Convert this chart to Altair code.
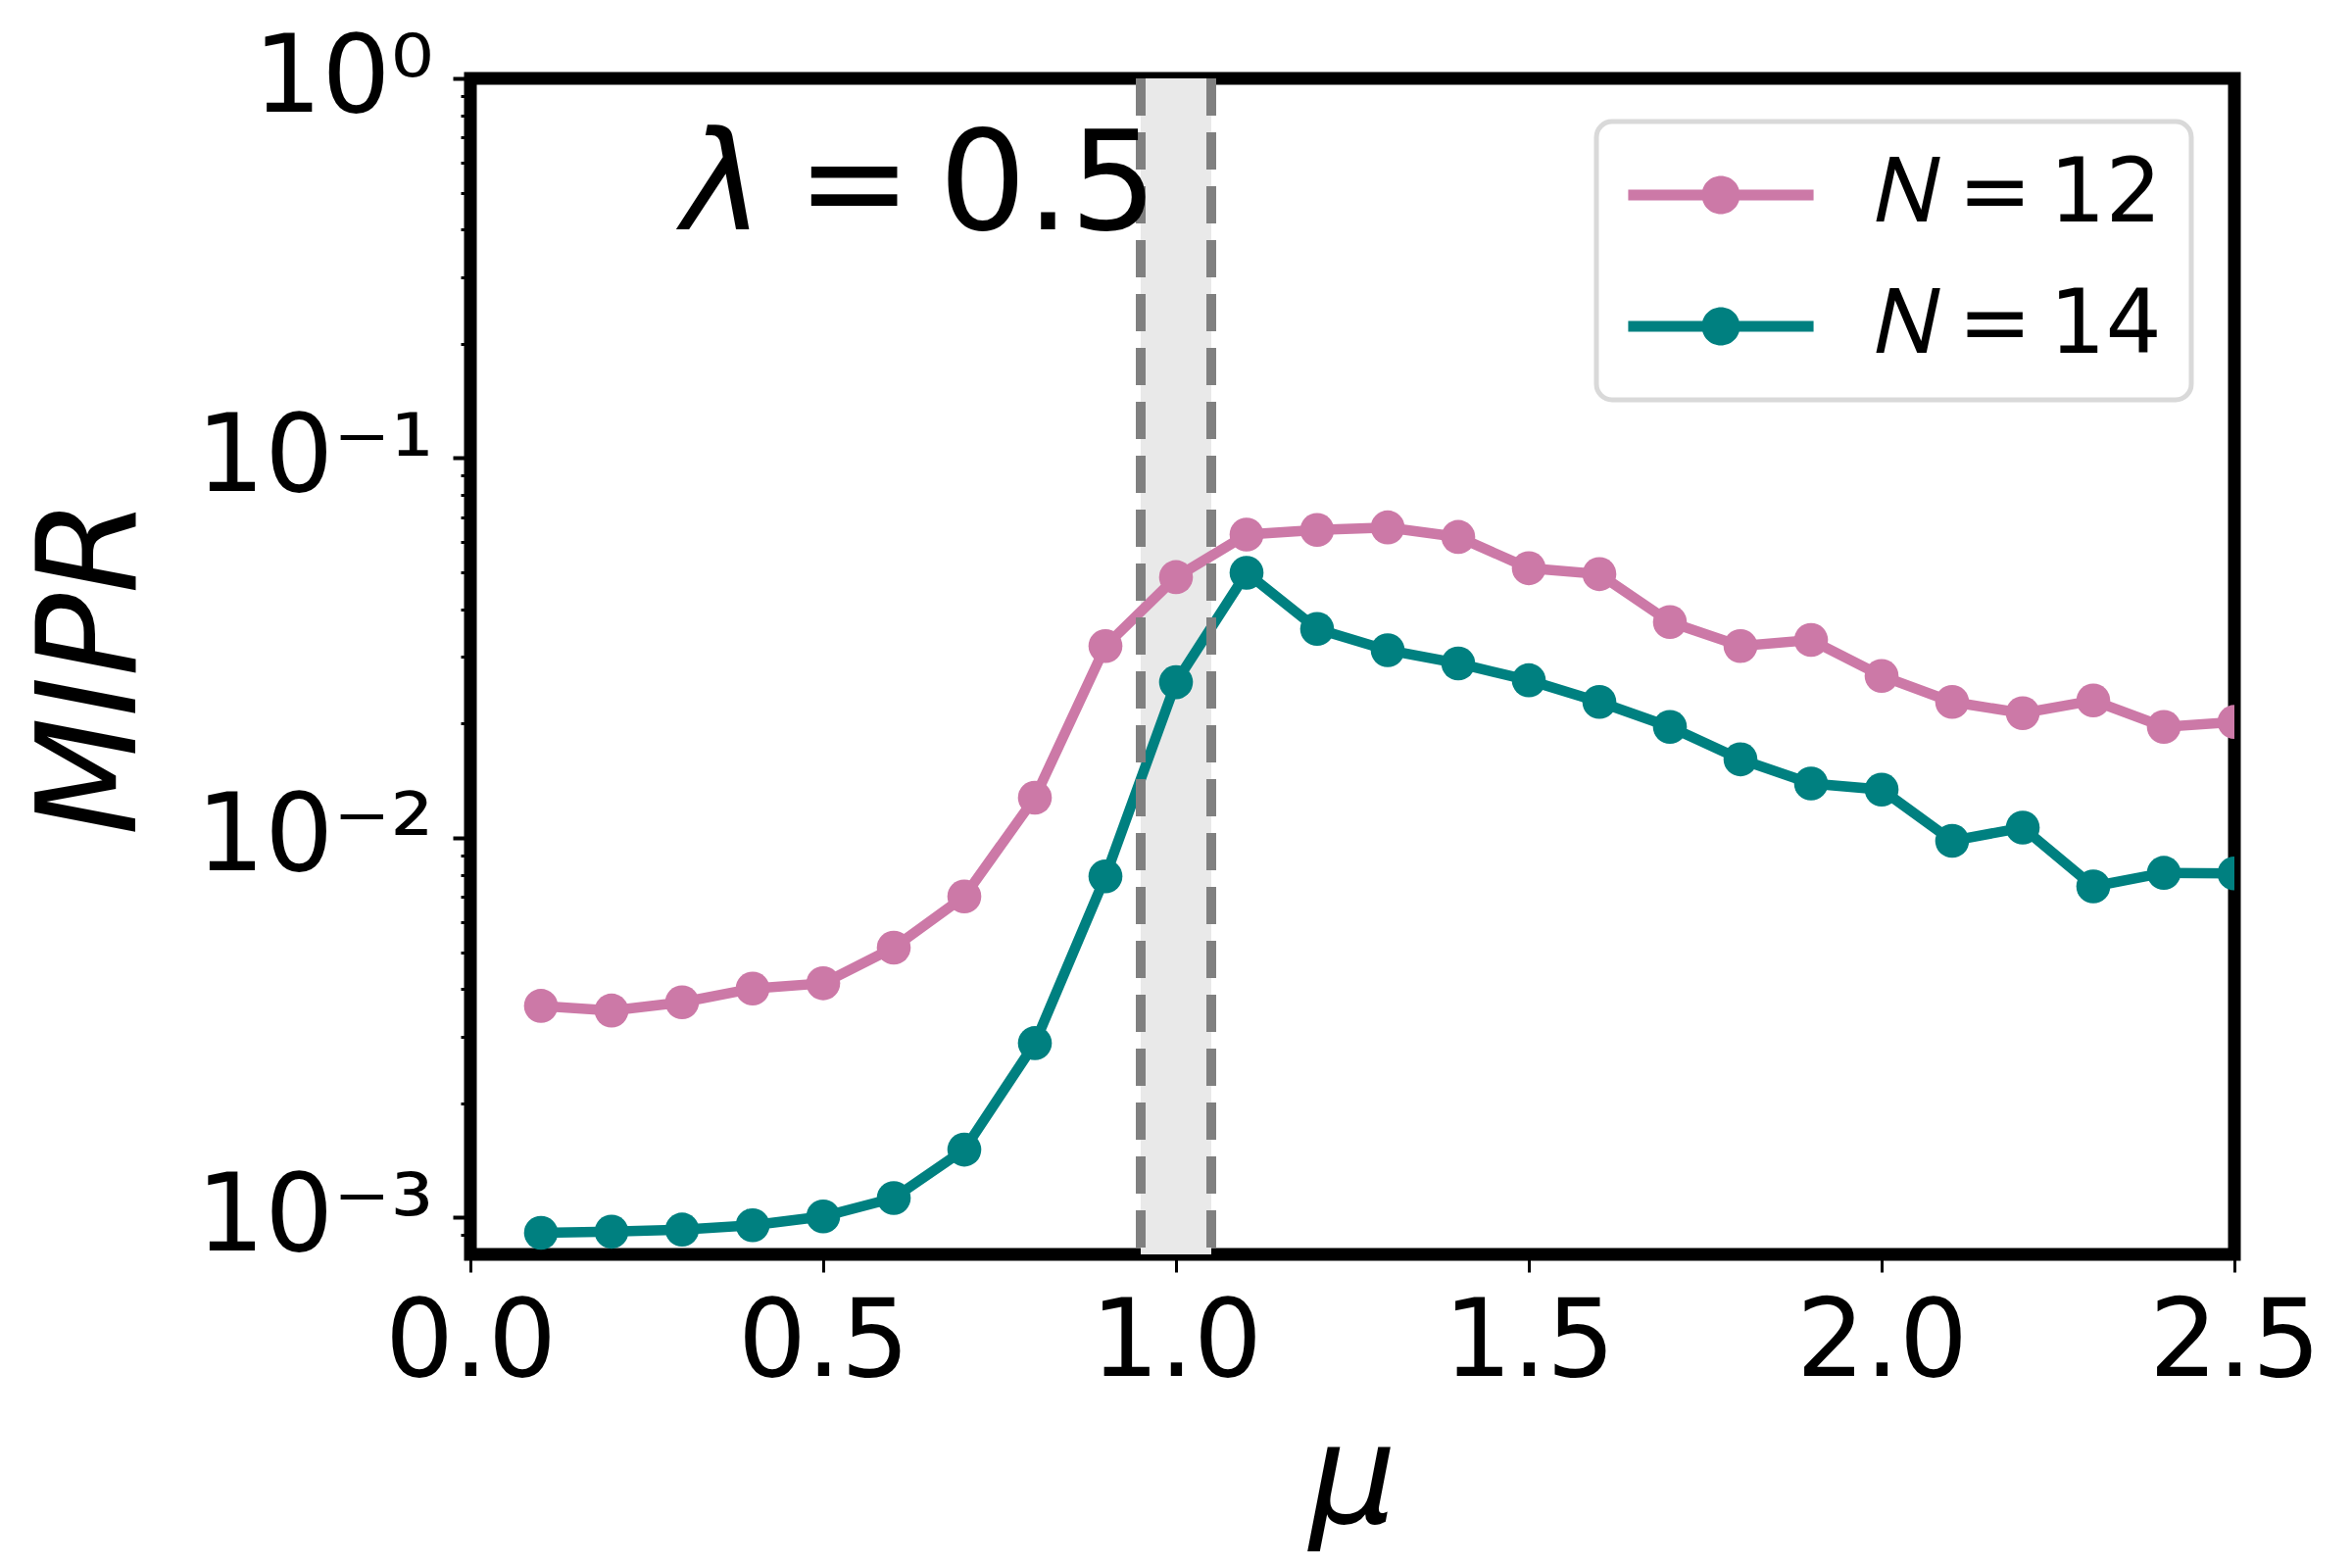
import altair as alt
import pandas as pd

# ---------------- data ----------------
mu = [0.1, 0.2, 0.3, 0.4, 0.5, 0.6, 0.7, 0.8, 0.9, 1.0, 1.1, 1.2, 1.3,
      1.4, 1.5, 1.6, 1.7, 1.8, 1.9, 2.0, 2.1, 2.2, 2.3, 2.4, 2.5]
mipr_n12 = [0.00361, 0.00351, 0.00369, 0.00401, 0.00414, 0.00514, 0.00701,
            0.01276, 0.0320, 0.0486, 0.0629, 0.0647, 0.0657, 0.0620, 0.0513,
            0.0495, 0.0370, 0.0320, 0.0332, 0.0267, 0.0228, 0.0213, 0.0230,
            0.0196, 0.0202]
mipr_n14 = [0.000912, 0.000918, 0.000930, 0.000955, 0.001007, 0.001126,
            0.00151, 0.00288, 0.00792, 0.0257, 0.0499, 0.0355, 0.0312,
            0.0288, 0.0260, 0.0228, 0.0196, 0.0161, 0.0139, 0.0134, 0.00982,
            0.01064, 0.00745, 0.00809, 0.00806]
series_names = ["\U0001D441\u2009=\u200912", "\U0001D441\u2009=\u200914"]
series_colors = ["#CC79A7", "#008080"]

band_edges = [0.95, 1.05]

x_ticks = [0.0, 0.5, 1.0, 1.5, 2.0, 2.5]
y_major = [1, 0.1, 0.01, 0.001]
y_major_labels = ["10\u2070", "10\u207B\u00B9", "10\u207B\u00B2", "10\u207B\u00B3"]
y_minor = [0.0009,
           0.002, 0.003, 0.004, 0.005, 0.006, 0.007, 0.008, 0.009,
           0.02, 0.03, 0.04, 0.05, 0.06, 0.07, 0.08, 0.09,
           0.2, 0.3, 0.4, 0.5, 0.6, 0.7, 0.8, 0.9]

annot_symbol = "\u03BB"
annot_rest = "\u2009=\u20090.5"
annot_x = [0.30, 0.4625]
annot_y = 0.40

# ---------------- tables ----------------
df = pd.DataFrame({
    "mu": mu * 2,
    "mipr": mipr_n12 + mipr_n14,
    "series": [series_names[0]] * len(mu) + [series_names[1]] * len(mu),
    "order": list(range(len(mu))) * 2,
})
band_df = pd.DataFrame({"x0": [band_edges[0]], "x1": [band_edges[1]]})
edge_df = pd.DataFrame({"x": band_edges})
sym_df = pd.DataFrame({"x": [annot_x[0]], "y": [annot_y], "t": [annot_symbol]})
rest_df = pd.DataFrame({"x": [annot_x[1]], "y": [annot_y], "t": [annot_rest]})

FONT = "DejaVu Sans"
W, H = 1800, 1200

xscale = alt.Scale(domain=[0, 2.5], nice=False, zero=False)
yscale = alt.Scale(type="log", domain=[0.0008, 1], nice=False)

major_test = "indexof([" + ",".join(str(v) for v in y_major) + "], datum.value) >= 0"
label_expr = " : ".join(
    f"datum.value == {v} ? '{lab}'" for v, lab in zip(y_major, y_major_labels)
) + " : ''"

x_axis = alt.Axis(
    values=x_ticks, format=".1f", labelFontSize=110, labelFont=FONT,
    labelColor="black", labelFlush=False, labelPadding=18, labelLimit=1000,
    tickSize=18, tickWidth=3, tickColor="black", domain=False, grid=False,
    title="\u03BC", titleFont=FONT, titleFontSize=140, titleFontStyle="italic",
    titleFontWeight="normal", titleColor="black",
    titleX=W / 2, titleY=273, titleBaseline="alphabetic", titleAlign="center",
)
y_axis = alt.Axis(
    values=y_minor + y_major, labelExpr=label_expr, labelFontSize=110,
    labelFont=FONT, labelColor="black", labelOverlap=False, labelFlush=False,
    labelPadding=20, labelLimit=1000,
    tickSize={"condition": {"test": major_test, "value": 18}, "value": 10},
    tickWidth={"condition": {"test": major_test, "value": 4}, "value": 3},
    tickColor="black", domain=False, grid=False,
    title="MIPR", titleFont=FONT, titleFontSize=140, titleFontStyle="italic",
    titleFontWeight="normal", titleColor="black",
    titleX=-343, titleY=H / 2, titleAngle=270, titleBaseline="alphabetic",
    titleAlign="center",
)

legend_symbol = ("M-4.85,-0.28L-0.96,-0.28L-0.96,0.28L-4.85,0.28Z"
                 "M0.96,-0.28L4.85,-0.28L4.85,0.28L0.96,0.28Z"
                 "M1,0A1,1 0 1,1 -1,0A1,1 0 1,1 1,0Z")

legend = alt.Legend(
    title=None, orient="none", legendX=1149, legendY=44,
    symbolType=legend_symbol, symbolSize=1521, symbolStrokeWidth=0,
    symbolOpacity=1, symbolOffset=52,
    labelFont=FONT, labelFontSize=90, labelColor="black",
    labelOffset=113, rowPadding=44, padding=30, cornerRadius=16,
    fillColor="white", strokeColor="#d9d9d9", labelLimit=1000,
)

band = alt.Chart(band_df).mark_rect(color="#e9e9e9").encode(
    x=alt.X("x0:Q", scale=xscale, axis=x_axis),
    x2="x1:Q",
)

line_layers = []
for name, col in zip(series_names, series_colors):
    line_layers.append(
        alt.Chart(df).transform_filter(alt.datum.series == name)
        .mark_line(strokeWidth=10.5, clip=True, color=col).encode(
            x=alt.X("mu:Q", scale=xscale, axis=x_axis),
            y=alt.Y("mipr:Q", scale=yscale, axis=y_axis),
            order="order:Q",
        )
    )

points = alt.Chart(df).mark_circle(size=1200, opacity=1, clip=True).encode(
    x=alt.X("mu:Q", scale=xscale, axis=x_axis),
    y=alt.Y("mipr:Q", scale=yscale, axis=y_axis),
    color=alt.Color("series:N", scale=alt.Scale(domain=series_names, range=series_colors), legend=legend),
)

edges = alt.Chart(edge_df).mark_rule(color="#808080", strokeWidth=10, strokeDash=[38, 17]).encode(
    x=alt.X("x:Q", scale=xscale, axis=x_axis),
)

sym_text = alt.Chart(sym_df).mark_text(
    font=FONT, fontSize=140, fontStyle="italic", align="left",
    baseline="alphabetic", color="black",
).encode(
    x=alt.X("x:Q", scale=xscale, axis=x_axis),
    y=alt.Y("y:Q", scale=yscale, axis=y_axis),
    text="t:N",
)
rest_text = alt.Chart(rest_df).mark_text(
    font=FONT, fontSize=140, align="left", baseline="alphabetic", color="black",
).encode(
    x=alt.X("x:Q", scale=xscale, axis=x_axis),
    y=alt.Y("y:Q", scale=yscale, axis=y_axis),
    text="t:N",
)

chart = alt.layer(band, *line_layers, points, edges, sym_text, rest_text).properties(
    width=W, height=H,
    autosize=alt.AutoSizeParams(type="none"),
    padding={"left": 472, "top": 72, "right": 112, "bottom": 312},
    background="white",
).configure(
    font=FONT,
).configure_view(
    stroke="black", strokeWidth=13,
).configure_legend(
    strokeWidth=5,
)

chart.save("out.html", embed_options={"renderer": "svg", "actions": False})
